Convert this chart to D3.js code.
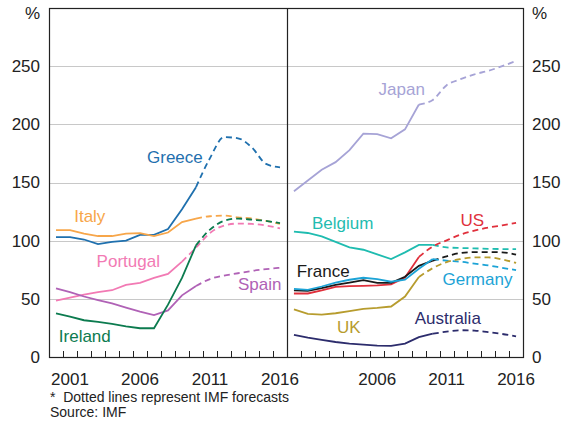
<!DOCTYPE html>
<html lang="en">
<head>
<meta charset="UTF-8">
<title>Government debt</title>
<style>
    body { margin: 0; background: #fff; }
    svg text { font-family: Arial, "Liberation Sans", sans-serif; }
    .grid { stroke: #c8c8c8; stroke-width: 1px; }
    .line { fill: none; stroke-width: 1.8px; }
    .tick-label { font-size: 17px; fill: #222; }
    .series-label { font-size: 17px; }
    .note { font-size: 14px; fill: #222; }
</style>
</head>
<body>
<div id="chart"></div>
<script src="https://d3js.org/d3.v7.min.js"></script>
<script>
    // annual data, 2000-2016 (IMF forecasts after the last actual year)
    const years = d3.range(2000, 2017);
    const yTicks = [0, 50, 100, 150, 200, 250];
    const leftYearLabels = [2001, 2006, 2011, 2016];
    const rightYearLabels = [2006, 2011, 2016];

    const greece   = [103, 103, 101, 97, 99, 100, 105, 105, 110, 127, 146, 171, 189, 188, 180, 166, 163];
    const italy    = [109, 109, 106, 104, 104, 106, 106.5, 104, 107, 116, 119, 121, 121.5, 120, 119, 117, 114.5];
    const portugal = [48.5, 51, 53.7, 55.7, 57.4, 62, 63.8, 68, 71.5, 82, 94, 106.6, 113, 114.7, 114.4, 113, 110.6];
    const spain    = [59, 55.7, 52, 48.9, 46, 42.5, 39, 36, 40, 53, 61, 67, 70, 72, 74, 75.5, 76.7];
    const ireland  = [37.4, 34.8, 31.6, 30.2, 28.4, 26.4, 24.7, 24.7, 45, 68, 96, 109.5, 117, 119, 118, 117, 115];

    const japan     = [142.5, 151.7, 161, 167.5, 177.8, 192, 191.6, 188, 195.7, 217, 221, 233.6, 238.8, 243, 246, 250, 254.5];
    const belgium   = [107.8, 106.6, 103.7, 98.9, 94.2, 92.2, 88.2, 84.2, 89.9, 96.3, 96.3, 94.2, 93.7, 93.4, 93, 92.8, 92.8];
    const us        = [54.6, 54.6, 57.2, 60.3, 61, 61.2, 61.5, 62.4, 68.4, 86, 95, 100.3, 105.2, 108.6, 111.2, 113.2, 115.2];
    const france    = [57.2, 56.9, 59.2, 62, 64, 66.1, 63.8, 63.8, 69, 78.4, 82.8, 86.5, 89.4, 90.2, 90.2, 90, 88];
    const germany   = [58.6, 57.7, 60.6, 64, 66.4, 68.1, 67, 64.7, 66.4, 75.9, 84.2, 82.8, 81.9, 80.2, 78.7, 76.7, 74.7];
    const uk        = [41, 37, 36.5, 37.6, 39.4, 41.4, 42.2, 43.4, 52, 68.7, 76.4, 81.6, 84.2, 85.6, 85.6, 83.9, 80.8];
    const australia = [19, 16.7, 14.7, 12.9, 11.5, 10.6, 9.8, 9.5, 11.5, 17, 20, 21.8, 23, 22.7, 21.3, 19.8, 17.8];

    // name, values, last actual year, colour, label anchor [year, value]
    const leftSeries = [
        { name: "Greece",   values: greece,   last: 2010, color: "#1f70ae", label: [2007.0, 166.8] },
        { name: "Italy",    values: italy,    last: 2010, color: "#f7a64a", label: [2001.8, 116.0] },
        { name: "Portugal", values: portugal, last: 2009, color: "#f27ab4", label: [2003.4, 77.4] },
        { name: "Spain",    values: spain,    last: 2010, color: "#b062b6", label: [2013.5, 57.6] },
        { name: "Ireland",  values: ireland,  last: 2010, color: "#0c7b4f", label: [2000.7, 12.9] }
    ];
    const rightSeries = [
        { name: "Japan",     values: japan,     last: 2009, color: "#a6a3d6", label: [2006.6, 225.2] },
        { name: "Belgium",   values: belgium,   last: 2010, color: "#1fbcb0", label: [2001.8, 110.0] },
        { name: "US",        values: us,        last: 2009, color: "#e0303c", label: [2012.5, 112.6] },
        { name: "France",    values: france,    last: 2010, color: "#1a1a1a", label: [2000.7, 68.8] },
        { name: "Germany",   values: germany,   last: 2010, color: "#1ca3d6", label: [2011.2, 61.9] },
        { name: "UK",        values: uk,        last: 2009, color: "#b79c2e", label: [2003.6, 20.6] },
        { name: "Australia", values: australia, last: 2010, color: "#2c2c6c", label: [2009.2, 28.4] }
    ];

    const width = 572, height = 422;
    const plotTop = 8, plotBottom = 357, plotLeft = 49, plotMid = 287, plotRight = 523;

    const svg = d3.select("#chart").append("svg")
        .attr("width", width)
        .attr("height", height);

    const y = d3.scaleLinear().domain([0, 300]).range([plotBottom, plotTop]);
    const xLeft = d3.scaleLinear().domain([2000, 2017]).range([plotLeft, plotMid]);
    const xRight = d3.scaleLinear().domain([2000, 2017]).range([plotMid, plotRight]);

    // gridlines
    svg.append("g").selectAll("line")
        .data(yTicks.filter(d => d > 0))
        .enter().append("line")
        .attr("class", "grid")
        .attr("x1", plotLeft).attr("x2", plotRight)
        .attr("y1", d => Math.round(y(d)) + 0.5)
        .attr("y2", d => Math.round(y(d)) + 0.5);

    function drawPanel(x, series, yearLabels) {
        const g = svg.append("g");

        // year ticks on the bottom axis
        g.selectAll(".xtick")
            .data(d3.range(2001, 2017))
            .enter().append("line")
            .attr("x1", d => Math.round(x(d)) + 0.5)
            .attr("x2", d => Math.round(x(d)) + 0.5)
            .attr("y1", plotBottom)
            .attr("y2", plotBottom - 6)
            .attr("stroke", "#222");

        g.selectAll(".year")
            .data(yearLabels)
            .enter().append("text")
            .attr("class", "tick-label")
            .attr("x", d => x(d + 0.5))
            .attr("y", plotBottom + 28)
            .attr("text-anchor", "middle")
            .text(d => d);

        // actuals drawn straight, forecasts a little smoother
        const solid = d3.line()
            .x(d => x(d[0] + 0.5))
            .y(d => y(d[1]));
        const dashed = d3.line()
            .x(d => x(d[0] + 0.5))
            .y(d => y(d[1]))
            .curve(d3.curveMonotoneX);

        series.forEach(s => {
            const pts = years.map((yr, i) => [yr, s.values[i]]);
            const actual = pts.filter(p => p[0] <= s.last);
            const forecast = pts.filter(p => p[0] >= s.last);

            g.append("path")
                .attr("class", "line")
                .attr("stroke", s.color)
                .attr("d", solid(actual));
            g.append("path")
                .attr("class", "line")
                .attr("stroke", s.color)
                .attr("stroke-dasharray", "6,4")
                .attr("d", dashed(forecast));

            g.append("text")
                .attr("class", "series-label")
                .attr("fill", s.color)
                .attr("x", x(s.label[0]))
                .attr("y", y(s.label[1]))
                .text(s.name);
        });
    }

    drawPanel(xLeft, leftSeries, leftYearLabels);
    drawPanel(xRight, rightSeries, rightYearLabels);

    // frame and divider
    svg.append("rect")
        .attr("x", plotLeft + 0.5).attr("y", plotTop + 0.5)
        .attr("width", plotRight - plotLeft).attr("height", plotBottom - plotTop)
        .attr("fill", "none").attr("stroke", "#222").attr("stroke-width", 1.2);
    svg.append("line")
        .attr("x1", plotMid + 0.5).attr("x2", plotMid + 0.5)
        .attr("y1", plotTop).attr("y2", plotBottom)
        .attr("stroke", "#222").attr("stroke-width", 1.2);

    // y axes, both sides
    const yAxisLeft = d3.axisLeft(y).tickValues(yTicks).tickSize(0).tickPadding(9);
    const yAxisRight = d3.axisRight(y).tickValues(yTicks).tickSize(0).tickPadding(9);

    svg.append("g")
        .attr("transform", `translate(${plotLeft},0)`)
        .call(yAxisLeft)
        .call(g => g.select(".domain").remove())
        .selectAll("text").attr("class", "tick-label");
    svg.append("g")
        .attr("transform", `translate(${plotRight},0)`)
        .call(yAxisRight)
        .call(g => g.select(".domain").remove())
        .selectAll("text").attr("class", "tick-label");
    svg.selectAll(".tick-label").attr("font-size", null).attr("font-family", null);
    svg.selectAll("g.tick text").attr("fill", "#222");

    svg.append("text").attr("class", "tick-label")
        .attr("x", 40).attr("y", 19).attr("text-anchor", "end").text("%");
    svg.append("text").attr("class", "tick-label")
        .attr("x", 532).attr("y", 19).text("%");

    // notes
    svg.append("text").attr("class", "note")
        .attr("x", 50).attr("y", 402)
        .text("*\u00a0\u00a0Dotted lines represent IMF forecasts");
    svg.append("text").attr("class", "note")
        .attr("x", 50).attr("y", 417)
        .text("Source: IMF");
</script>
</body>
</html>
